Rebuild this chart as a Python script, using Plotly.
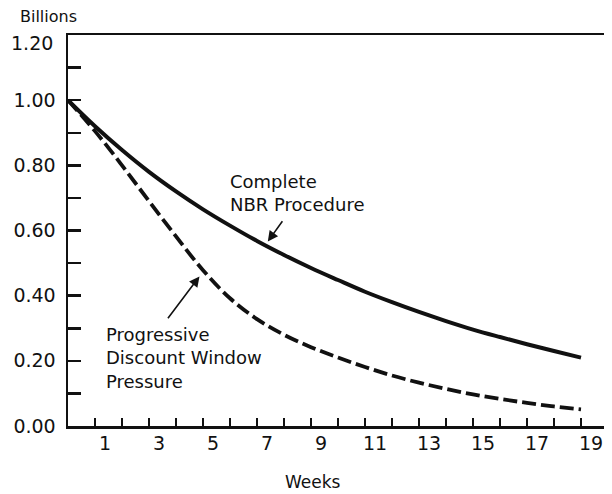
import plotly.graph_objects as go

weeks = list(range(0, 20))
nbr_complete = [1.00, 0.92, 0.847, 0.78, 0.72, 0.665, 0.615, 0.568, 0.525, 0.485,
                0.448, 0.412, 0.38, 0.35, 0.322, 0.296, 0.273, 0.251, 0.23, 0.21]
discount_pressure = [1.00, 0.905, 0.80, 0.69, 0.582, 0.478, 0.392, 0.328, 0.28, 0.242,
                     0.21, 0.181, 0.155, 0.133, 0.114, 0.097, 0.083, 0.071, 0.06, 0.051]

tick_weeks = list(range(1, 20))
label_weeks = [1, 3, 5, 7, 9, 11, 13, 15, 17, 19]
label_text = [str(w) for w in label_weeks]
y_ticks = [round(i * 0.1, 1) for i in range(13)]
y_text = [f"{v:.2f}" if (i % 2 == 0 and i < 12) else "" for i, v in enumerate(y_ticks)]
top_label = "1.20"

FONT = "DejaVu Sans"
INK = "#111111"

fig = go.Figure()
fig.add_trace(go.Scatter(x=weeks, y=nbr_complete, mode="lines",
                         line=dict(color=INK, width=4, shape="spline", smoothing=1.0),
                         showlegend=False, hoverinfo="skip"))
fig.add_trace(go.Scatter(x=weeks, y=discount_pressure, mode="lines",
                         line=dict(color=INK, width=3.8, dash="14px,5px", shape="spline", smoothing=1.0),
                         showlegend=False, hoverinfo="skip"))
# invisible trace for label axis
fig.add_trace(go.Scatter(x=[0], y=[0], xaxis="x2", mode="markers",
                         marker=dict(opacity=0), showlegend=False, hoverinfo="skip"))

label_offset = 0.37

# page body has an 8px default margin, so the figure is 8px smaller than the window
fig.update_layout(
    width=604, height=486,
    margin=dict(l=60, r=4, t=27, b=68, autoexpand=False),
    paper_bgcolor="white", plot_bgcolor="white",
    font=dict(family=FONT, color=INK, size=19),
    xaxis=dict(range=[0, 20], tickvals=tick_weeks, showticklabels=False,
               ticks="inside", ticklen=8, tickwidth=2.5, tickcolor=INK,
               showline=True, linewidth=2.5, linecolor=INK, mirror=True,
               showgrid=False, zeroline=False, automargin=False),
    xaxis2=dict(range=[0, 20], overlaying="x", side="bottom",
                tickvals=[w + label_offset for w in label_weeks], ticktext=label_text,
                ticks="", showline=False, showgrid=False, zeroline=False, automargin=False,
                ticklabelstandoff=4,
                tickfont=dict(family=FONT, size=19, color=INK)),
    yaxis=dict(range=[0, 1.2], tickvals=y_ticks, ticktext=y_text,
               ticks="inside", ticklen=13, tickwidth=2.5, tickcolor=INK,
               showline=True, linewidth=2.5, linecolor=INK, mirror=True, automargin=False,
               ticklabelstandoff=6,
               showgrid=False, zeroline=False, tickfont=dict(family=FONT, size=19, color=INK)),
)

fig.add_annotation(text=top_label, xref="paper", yref="y", x=0, y=1.2,
                   xanchor="right", yanchor="middle", xshift=-13, yshift=-8, showarrow=False,
                   font=dict(family=FONT, size=19, color=INK))
fig.add_annotation(text="Billions", xref="paper", yref="paper", x=-0.036, y=1.047,
                   xanchor="center", yanchor="middle", showarrow=False,
                   font=dict(family=FONT, size=16, color=INK))
fig.add_annotation(text="Weeks", xref="paper", yref="paper", x=0.454, y=-0.143,
                   xanchor="center", yanchor="middle", showarrow=False,
                   font=dict(family=FONT, size=17, color=INK))
fig.add_annotation(text="Complete<br>NBR Procedure", x=5.92, y=0.715,
                   xanchor="left", yanchor="middle", align="left", showarrow=False,
                   font=dict(family=FONT, size=18, color=INK))
fig.add_annotation(text="Progressive<br>Discount Window<br>Pressure", x=1.32, y=0.208,
                   xanchor="left", yanchor="middle", align="left", showarrow=False,
                   font=dict(family=FONT, size=18, color=INK))
fig.add_annotation(text="", x=7.40, y=0.566, ax=7.98, ay=0.633, axref="x", ayref="y",
                   showarrow=True, arrowhead=2, arrowsize=1.3, arrowwidth=1.6, arrowcolor=INK)
fig.add_annotation(text="", x=4.87, y=0.459, ax=3.66, ay=0.326, axref="x", ayref="y",
                   showarrow=True, arrowhead=2, arrowsize=1.3, arrowwidth=1.6, arrowcolor=INK)

fig.write_html("out.html", config={"staticPlot": True})
